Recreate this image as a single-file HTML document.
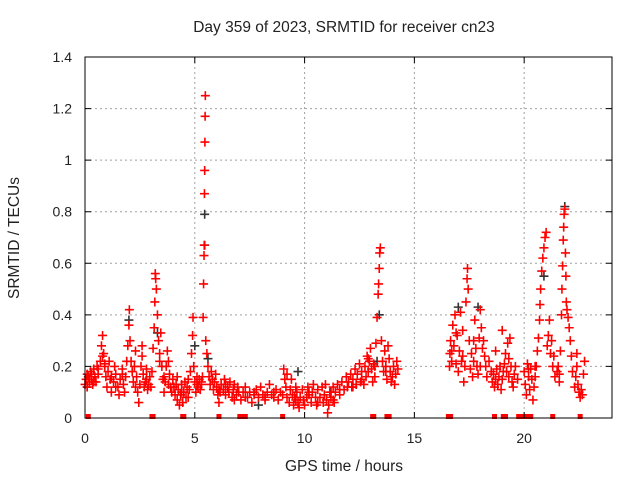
<!DOCTYPE html>
<html><head><meta charset="utf-8">
<style>
html,body{margin:0;padding:0;background:#fff;}
svg{display:block;font-family:"Liberation Sans",sans-serif;}
</style></head>
<body>
<svg id="chart" width="640" height="480" viewBox="0 0 640 480" xmlns="http://www.w3.org/2000/svg">
<rect x="0" y="0" width="640" height="480" fill="#fff"/>
<text x="344" y="32" font-size="15.5" text-anchor="middle" fill="#222">Day 359 of 2023, SRMTID for receiver cn23</text>
<text transform="translate(19,238) rotate(-90)" font-size="15.5" text-anchor="middle" fill="#222">SRMTID / TECUs</text>
<text x="344" y="471" font-size="15.5" text-anchor="middle" fill="#222">GPS time / hours</text>
<g id="grid"></g>
<g id="marks"></g>
<rect x="85" y="57" width="527" height="361" fill="none" stroke="#000" stroke-width="1"/>
<g id="ticks"></g>
</svg>
<script>
const xTicks=[0,5,10,15,20];
const yTicks=[0,0.2,0.4,0.6,0.8,1,1.2,1.4];
const yTickLabels=["0","0.2","0.4","0.6","0.8","1","1.2","1.4"];
const redTimes=[0.0,0.05,0.1,0.1,0.15,0.2,0.25,0.3,0.35,0.4,0.45,0.5,0.55,0.6,0.7,0.75,0.8,0.85,0.9,0.95,
1.0,1.05,1.1,1.15,1.2,1.3,1.35,1.4,1.5,1.55,1.6,1.7,1.75,1.8,1.85,1.9,1.95,2.0,2.02,2.05,2.1,
2.15,2.2,2.25,2.3,2.35,2.4,2.45,2.5,2.55,2.6,2.65,2.7,2.75,2.8,2.85,2.9,2.95,3.0,
3.05,3.1,3.15,3.18,3.2,3.22,3.25,3.3,3.35,3.4,3.45,3.5,3.55,3.6,3.65,3.7,3.75,3.8,3.85,3.9,3.95,
4.0,4.05,4.1,4.15,4.2,4.25,4.3,4.35,4.4,4.45,4.5,4.55,4.6,4.65,4.7,4.75,4.8,4.85,4.9,4.92,4.95,5.0,
5.05,5.1,5.15,5.2,5.25,5.3,5.35,5.38,5.4,5.42,5.43,5.44,5.45,5.46,5.47,5.48,5.5,5.55,5.6,5.65,5.7,5.75,5.8,5.85,5.9,5.95,
6.0,6.05,6.1,6.15,6.2,6.3,6.35,6.4,6.5,6.55,6.6,6.7,6.75,6.8,6.9,6.95,
7.0,7.1,7.2,7.3,7.4,7.5,7.6,7.7,7.8,7.9,8.0,8.1,8.2,8.3,8.4,8.5,8.6,8.7,8.8,8.9,
9.0,9.05,9.1,9.15,9.2,9.3,9.35,9.4,9.45,9.5,9.55,9.6,9.65,9.7,9.75,9.8,9.9,9.95,
10.0,10.1,10.15,10.2,10.3,10.35,10.4,10.5,10.55,10.6,10.7,10.8,10.85,10.9,10.95,
11.0,11.05,11.1,11.15,11.2,11.3,11.35,11.4,11.5,11.6,11.7,11.8,11.9,11.95,
12.0,12.1,12.15,12.2,12.3,12.35,12.4,12.5,12.55,12.6,12.7,12.75,12.8,12.85,12.9,12.95,
13.0,13.05,13.1,13.15,13.2,13.25,13.3,13.35,13.37,13.4,13.42,13.45,13.5,13.55,13.6,13.65,13.7,13.75,13.8,13.85,13.9,13.95,14.0,14.05,14.1,14.15,14.2,14.25,
16.6,16.62,16.65,16.7,16.75,16.8,16.85,16.9,16.95,17.0,17.05,17.1,17.15,17.2,17.25,17.3,17.35,17.4,17.42,17.45,17.5,17.55,17.6,17.65,17.7,17.75,17.8,17.85,17.9,17.95,18.0,18.05,18.1,18.15,18.2,18.25,18.3,
18.4,18.5,18.55,18.6,18.65,18.7,18.75,18.8,18.85,18.9,18.95,19.0,19.05,19.1,19.15,19.2,19.25,19.3,19.35,19.4,19.45,19.5,19.55,19.6,19.7,
20.0,20.05,20.1,20.15,20.2,20.25,20.3,20.35,20.4,20.45,20.5,20.55,20.6,20.65,20.7,20.72,20.75,20.8,20.85,20.9,20.95,21.0,21.05,21.1,21.15,21.2,21.25,21.3,21.35,21.4,
21.5,21.55,21.6,21.65,21.7,21.72,21.75,21.78,21.8,21.82,21.85,21.88,21.9,21.92,21.95,22.0,22.05,22.1,22.15,22.2,22.3,22.35,22.4,22.45,22.5,22.55,22.6,22.65,22.7,22.75,
0.2,0.3,0.4,0.6,0.8,0.9,1.2,1.4,1.7,2.3,2.6,2.8,3.4,3.6,3.8,4.2,4.4,4.7,5.1,5.3,6.1,6.4,6.8,7.3,7.7,8.2,8.6,9.2,9.6,10.2,10.6,11.3,11.6,12.2,12.6,12.9,13.2,13.7,16.7,16.9,17.2,17.7,18.0,18.7,19.0,19.3,20.2,20.5,21.6,22.4];
const redValues=[.13,.15,.17,.12,.16,.14,.18,.15,.13,.19,.16,.14,.2,.17,.22,.28,.32,.25,.2,.16,
.12,.18,.22,.15,.1,.14,.2,.17,.12,.09,.15,.19,.13,.1,.16,.22,.28,.36,.42,.3,.22,
.18,.14,.2,.26,.16,.1,.06,.13,.2,.24,.17,.12,.14,.19,.11,.13,.16,.12,
.18,.27,.35,.45,.56,.54,.5,.4,.3,.25,.33,.2,.15,.1,.14,.2,.26,.22,.17,.12,.1,
.15,.12,.09,.13,.07,.11,.05,.09,.13,.06,.1,.14,.08,.12,.15,.11,.18,.25,.32,.39,.2,.14,
.1,.13,.12,.15,.11,.14,.16,.39,.52,.63,.67,.87,.96,1.07,1.17,1.25,.3,.25,.2,.16,.13,.18,.15,.11,.14,.17,
.12,.09,.06,.1,.13,.11,.15,.09,.12,.1,.14,.08,.11,.13,.09,.12,
.1,.07,.1,.12,.08,.1,.06,.09,.11,.08,.12,.09,.07,.1,.13,.09,.08,.11,.07,.1,
.09,.19,.15,.12,.08,.06,.11,.15,.09,.05,.08,.12,.1,.06,.04,.08,.11,.07,
.05,.08,.12,.09,.06,.1,.13,.08,.05,.11,.08,.12,.06,.09,.13,
.07,.02,.05,.1,.08,.12,.06,.1,.13,.09,.14,.11,.16,.12,
.14,.17,.12,.15,.19,.13,.17,.21,.14,.18,.13,.2,.16,.24,.18,.22,
.27,.19,.14,.21,.16,.29,.39,.48,.52,.58,.64,.66,.3,.22,.18,.26,.2,.15,.28,.23,.18,.14,.16,.2,.13,.17,.22,.19,
.2,.25,.3,.22,.36,.28,.4,.21,.32,.18,.26,.41,.22,.34,.14,.2,.45,.54,.58,.5,.3,.19,.25,.16,.22,.38,.27,.2,.17,.31,.42,.35,.27,.3,.24,.2,.16,
.22,.18,.14,.17,.12,.15,.19,.13,.16,.2,.11,.15,.18,.21,.25,.18,.29,.23,.31,.2,.14,.12,.17,.2,.15,
.18,.13,.09,.21,.16,.11,.19,.15,.07,.12,.16,.2,.26,.31,.38,.44,.5,.57,.62,.66,.7,.72,.28,.32,.38,.25,.3,.2,.24,.16,
.18,.2,.17,.26,.4,.5,.59,.69,.74,.79,.81,.64,.55,.45,.42,.39,.35,.3,.24,.18,.12,.16,.2,.13,.1,.08,.11,.09,.17,.22,
.15,.17,.14,.19,.24,.21,.16,.12,.17,.12,.28,.15,.22,.16,.13,.16,.1,.08,.16,.13,.11,.13,.07,.08,.1,.08,.1,.17,.07,.1,.06,.07,.11,.12,.15,.23,.2,.18,.26,.33,.24,.3,.2,.26,.34,.16,.19,.2,.14,.25,.2,.16];
const blackTimes=[0.1,2.0,3.3,5.0,5.45,5.45,5.6,7.9,9.7,11.2,13.3,13.4,17.0,17.9,20.9,21.85];
const blackValues=[.12,.38,.33,.28,.79,.67,.23,.05,.18,.1,.22,.4,.43,.43,.55,.82];
const zeroTimes=[0.15,3.05,3.1,4.45,4.5,6.1,7.05,7.1,7.2,7.3,9.0,13.1,13.15,13.75,13.85,16.55,16.65,18.65,19.05,19.15,19.75,19.85,20.05,20.15,20.3,21.3,22.55];

const X0=85,X1=612,Y0=418,Y1=57,XMAX=24,YMAX=1.4;
function xs(t){return X0+(X1-X0)*t/XMAX;}
function ys(v){return Y0-(Y0-Y1)*v/YMAX;}
const NS="http://www.w3.org/2000/svg";
const grid=document.getElementById('grid'),ticks=document.getElementById('ticks'),marks=document.getElementById('marks');
function mk(tag,attrs,parent){const e=document.createElementNS(NS,tag);for(const k in attrs)e.setAttribute(k,attrs[k]);parent.appendChild(e);return e;}
xTicks.forEach(function(t){
  const x=xs(t);
  if(t>0){const g=mk('line',{x1:x,x2:x,y1:Y1,y2:Y0,stroke:'#a0a0a0','stroke-dasharray':'2,3','stroke-width':1},grid);
  
  }
  const tk=mk('path',{d:'M'+x+','+Y0+'v-6M'+x+','+Y1+'v6',stroke:'#000','stroke-width':1},ticks);
  
  
  const lb=mk('text',{x:x,y:443,'font-size':14,'text-anchor':'middle',fill:'#222'},ticks);
  lb.textContent=String(t);
  
  
});
yTicks.forEach(function(v,i){
  const y=ys(v);
  if(v>0&&v<YMAX){const g=mk('line',{x1:X0,x2:X1,y1:y,y2:y,stroke:'#a0a0a0','stroke-dasharray':'2,3','stroke-width':1},grid);
  
  }
  const tk=mk('path',{d:'M'+X0+','+y+'h6M'+X1+','+y+'h-6',stroke:'#000','stroke-width':1},ticks);
  
  
  const lb=mk('text',{x:72,y:y+5,'font-size':14,'text-anchor':'end',fill:'#222'},ticks);
  lb.textContent=yTickLabels[i];
  
  
});
function plus(t,v,color,name){
  const x=xs(t),y=ys(v);
  const p=mk('path',{d:'M'+(x-4.5)+','+y+'h9M'+x+','+(y-4.5)+'v9',stroke:color,'stroke-width':1.6,fill:'none'},marks);
  
  
}
blackTimes.forEach(function(t,i){plus(t,blackValues[i],'#333','black-point');});
redTimes.forEach(function(t,i){plus(t,redValues[i],'#ff0000','red-point');});
zeroTimes.forEach(function(t){
  const r=mk('rect',{x:xs(t)-2.5,y:Y0-4,width:5,height:5,fill:'#ff0000'},marks);
  
  
});
</script>
</body></html>
